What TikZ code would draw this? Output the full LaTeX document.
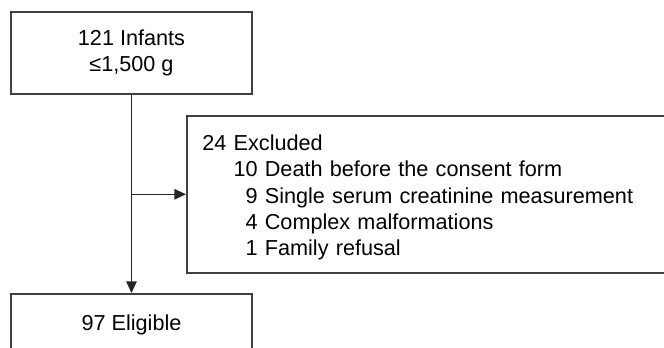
\documentclass[tikz,border=0pt]{standalone}
\usepackage{fontspec}
\setmainfont{Liberation Sans}
\usetikzlibrary{arrows.meta,positioning}

\begin{document}
\begin{tikzpicture}[
box/.style={draw=black!75,line width=1.1pt,font=\fontsize{15.4pt}{18.7pt}\selectfont},
arr/.style={-{Triangle[length=2.9mm,width=2.6mm]},line width=1pt,draw=black!85}]
\useasboundingbox (0,0) rectangle (16.6,-8.7);
\node[box,align=center,minimum width=6.025cm,minimum height=2.05cm] (infants) at (3.2875,-1.325) {121 Infants\\≤1,500 g};
\node[box,align=left,anchor=north west,text width=14cm,inner xsep=0.39cm,minimum height=3.925cm] (excl) at (4.65,-2.875)
 {\rule{0pt}{0.55cm}24 Excluded\\
  \hspace*{0.78cm}10 Death before the consent form\\
  \hspace*{0.78cm}\phantom{1}9 Single serum creatinine measurement\\
  \hspace*{0.78cm}\phantom{1}4 Complex malformations\\
  \hspace*{0.78cm}\phantom{1}1 Family refusal};
\node[box,anchor=north,minimum width=6.025cm,inner ysep=0pt,text height=0.925cm,text depth=1.2cm] (elig) at (3.2875,-7.325) {97 Eligible};
\coordinate (split) at (infants.south |- excl.west);
\draw[arr] (infants.south) -- (elig.north);
\draw[arr] (split) -- (excl.west);
\end{tikzpicture}
\end{document}
